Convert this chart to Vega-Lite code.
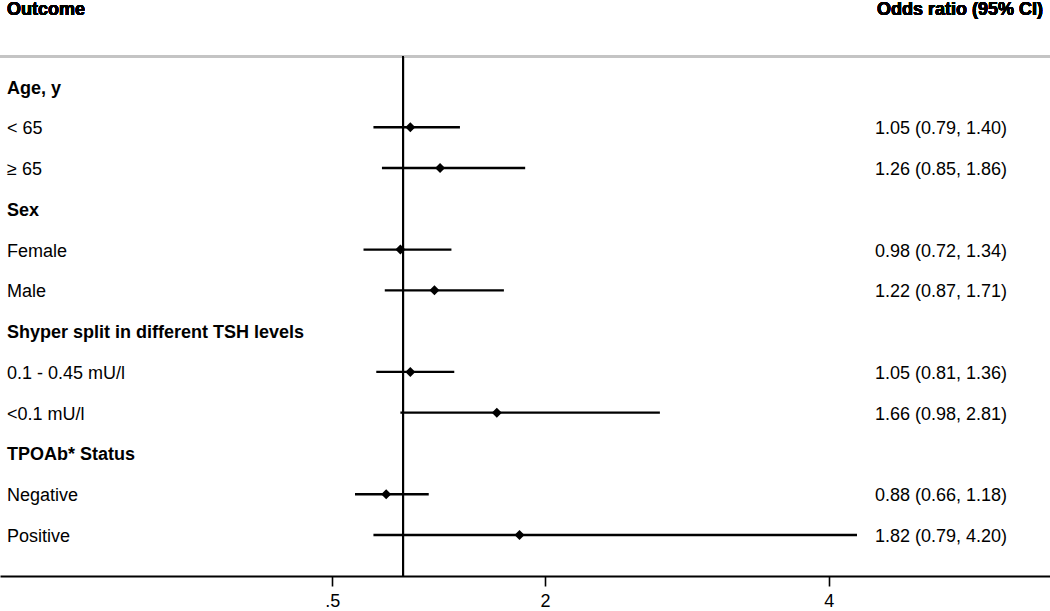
{
  "$schema": "https://vega.github.io/schema/vega-lite/v6.json",
  "width": 1050,
  "height": 576,
  "autosize": {"type": "none"},
  "padding": {"left": 0, "top": 0, "right": 0, "bottom": 35},
  "background": "white",
  "config": {
    "view": {"stroke": null},
    "font": "Liberation Sans",
    "text": {"font": "Liberation Sans", "fontSize": 18, "color": "#000000"}
  },
  "data": {
    "values": [
      {"row": 0, "label": "Age, y", "kind": "group"},
      {"row": 1, "label": "< 65", "kind": "item", "or": 1.05, "lo": 0.79, "hi": 1.40, "ci": "1.05 (0.79, 1.40)"},
      {"row": 2, "label": "≥ 65", "kind": "item", "or": 1.26, "lo": 0.85, "hi": 1.86, "ci": "1.26 (0.85, 1.86)"},
      {"row": 3, "label": "Sex", "kind": "group"},
      {"row": 4, "label": "Female", "kind": "item", "or": 0.98, "lo": 0.72, "hi": 1.34, "ci": "0.98 (0.72, 1.34)"},
      {"row": 5, "label": "Male", "kind": "item", "or": 1.22, "lo": 0.87, "hi": 1.71, "ci": "1.22 (0.87, 1.71)"},
      {"row": 6, "label": "Shyper split in different TSH levels", "kind": "group"},
      {"row": 7, "label": "0.1 - 0.45 mU/l", "kind": "item", "or": 1.05, "lo": 0.81, "hi": 1.36, "ci": "1.05 (0.81, 1.36)"},
      {"row": 8, "label": "<0.1 mU/l", "kind": "item", "or": 1.66, "lo": 0.98, "hi": 2.81, "ci": "1.66 (0.98, 2.81)"},
      {"row": 9, "label": "TPOAb* Status", "kind": "group"},
      {"row": 10, "label": "Negative", "kind": "item", "or": 0.88, "lo": 0.66, "hi": 1.18, "ci": "0.88 (0.66, 1.18)"},
      {"row": 11, "label": "Positive", "kind": "item", "or": 1.82, "lo": 0.79, "hi": 4.20, "ci": "1.82 (0.79, 4.20)"}
    ]
  },
  "encoding": {
    "y": {"field": "row", "type": "quantitative", "axis": null,
          "scale": {"domain": [-2.122, 12.006], "reverse": true, "nice": false, "zero": false}}
  },
  "layer": [
    {
      "mark": {"type": "rule", "color": "#c4c4c4", "strokeWidth": 1.6},
      "encoding": {"y": {"datum": -0.736, "type": "quantitative"}, "x": null}
    },
    {
      "mark": {"type": "rule", "color": "#000000", "strokeWidth": 1.6},
      "encoding": {
        "x": {"datum": 1, "type": "quantitative"},
        "y": {"datum": -0.736, "type": "quantitative"},
        "y2": {"datum": 12.006}
      }
    },
    {
      "transform": [{"filter": "datum.kind == 'item'"}],
      "mark": {"type": "rule", "color": "#000000", "strokeWidth": 2.4},
      "encoding": {
        "x": {"field": "lo", "type": "quantitative",
              "scale": {"domain": [-1.8434, 5.561], "nice": false, "zero": false},
              "axis": {
                "title": null, "grid": false, "values": [0.5, 2, 4],
                "labelExpr": "datum.value == 0.5 ? '.5' : format(datum.value, 'd')",
                "domainColor": "#000000", "domainWidth": 2,
                "tickColor": "#000000", "tickWidth": 1.6, "tickSize": 10,
                "labelFontSize": 18, "labelColor": "#000000", "labelFont": "Liberation Sans",
                "labelPadding": 6
              }},
        "x2": {"field": "hi"}
      }
    },
    {
      "transform": [{"filter": "datum.kind == 'item'"}],
      "mark": {"type": "point", "shape": "diamond", "filled": true, "color": "#000000", "size": 100, "opacity": 1},
      "encoding": {"x": {"field": "or", "type": "quantitative"}}
    },
    {
      "transform": [{"filter": "datum.kind == 'group'"}],
      "mark": {"type": "text", "align": "left", "baseline": "middle", "fontWeight": "bold", "dy": 2},
      "encoding": {
        "x": {"datum": -1.794, "type": "quantitative"},
        "text": {"field": "label"}
      }
    },
    {
      "transform": [{"filter": "datum.kind == 'item'"}],
      "mark": {"type": "text", "align": "left", "baseline": "middle", "dy": 2},
      "encoding": {
        "x": {"datum": -1.794, "type": "quantitative"},
        "text": {"field": "label"}
      }
    },
    {
      "transform": [{"filter": "datum.kind == 'item'"}],
      "mark": {"type": "text", "align": "left", "baseline": "middle", "dy": 2},
      "encoding": {
        "x": {"datum": 4.327, "type": "quantitative"},
        "text": {"field": "ci"}
      }
    },
    {
      "mark": {"type": "text", "align": "left", "baseline": "middle", "fontWeight": "bold", "text": "Outcome", "dy": 2},
      "encoding": {
        "x": {"datum": -1.794, "type": "quantitative"},
        "y": {"datum": -1.925, "type": "quantitative"}
      }
    },
    {
      "mark": {"type": "text", "align": "right", "baseline": "middle", "fontWeight": "bold", "text": "Odds ratio (95% CI)", "dy": 2},
      "encoding": {
        "x": {"datum": 5.512, "type": "quantitative"},
        "y": {"datum": -1.925, "type": "quantitative"}
      }
    }
  ]
}
